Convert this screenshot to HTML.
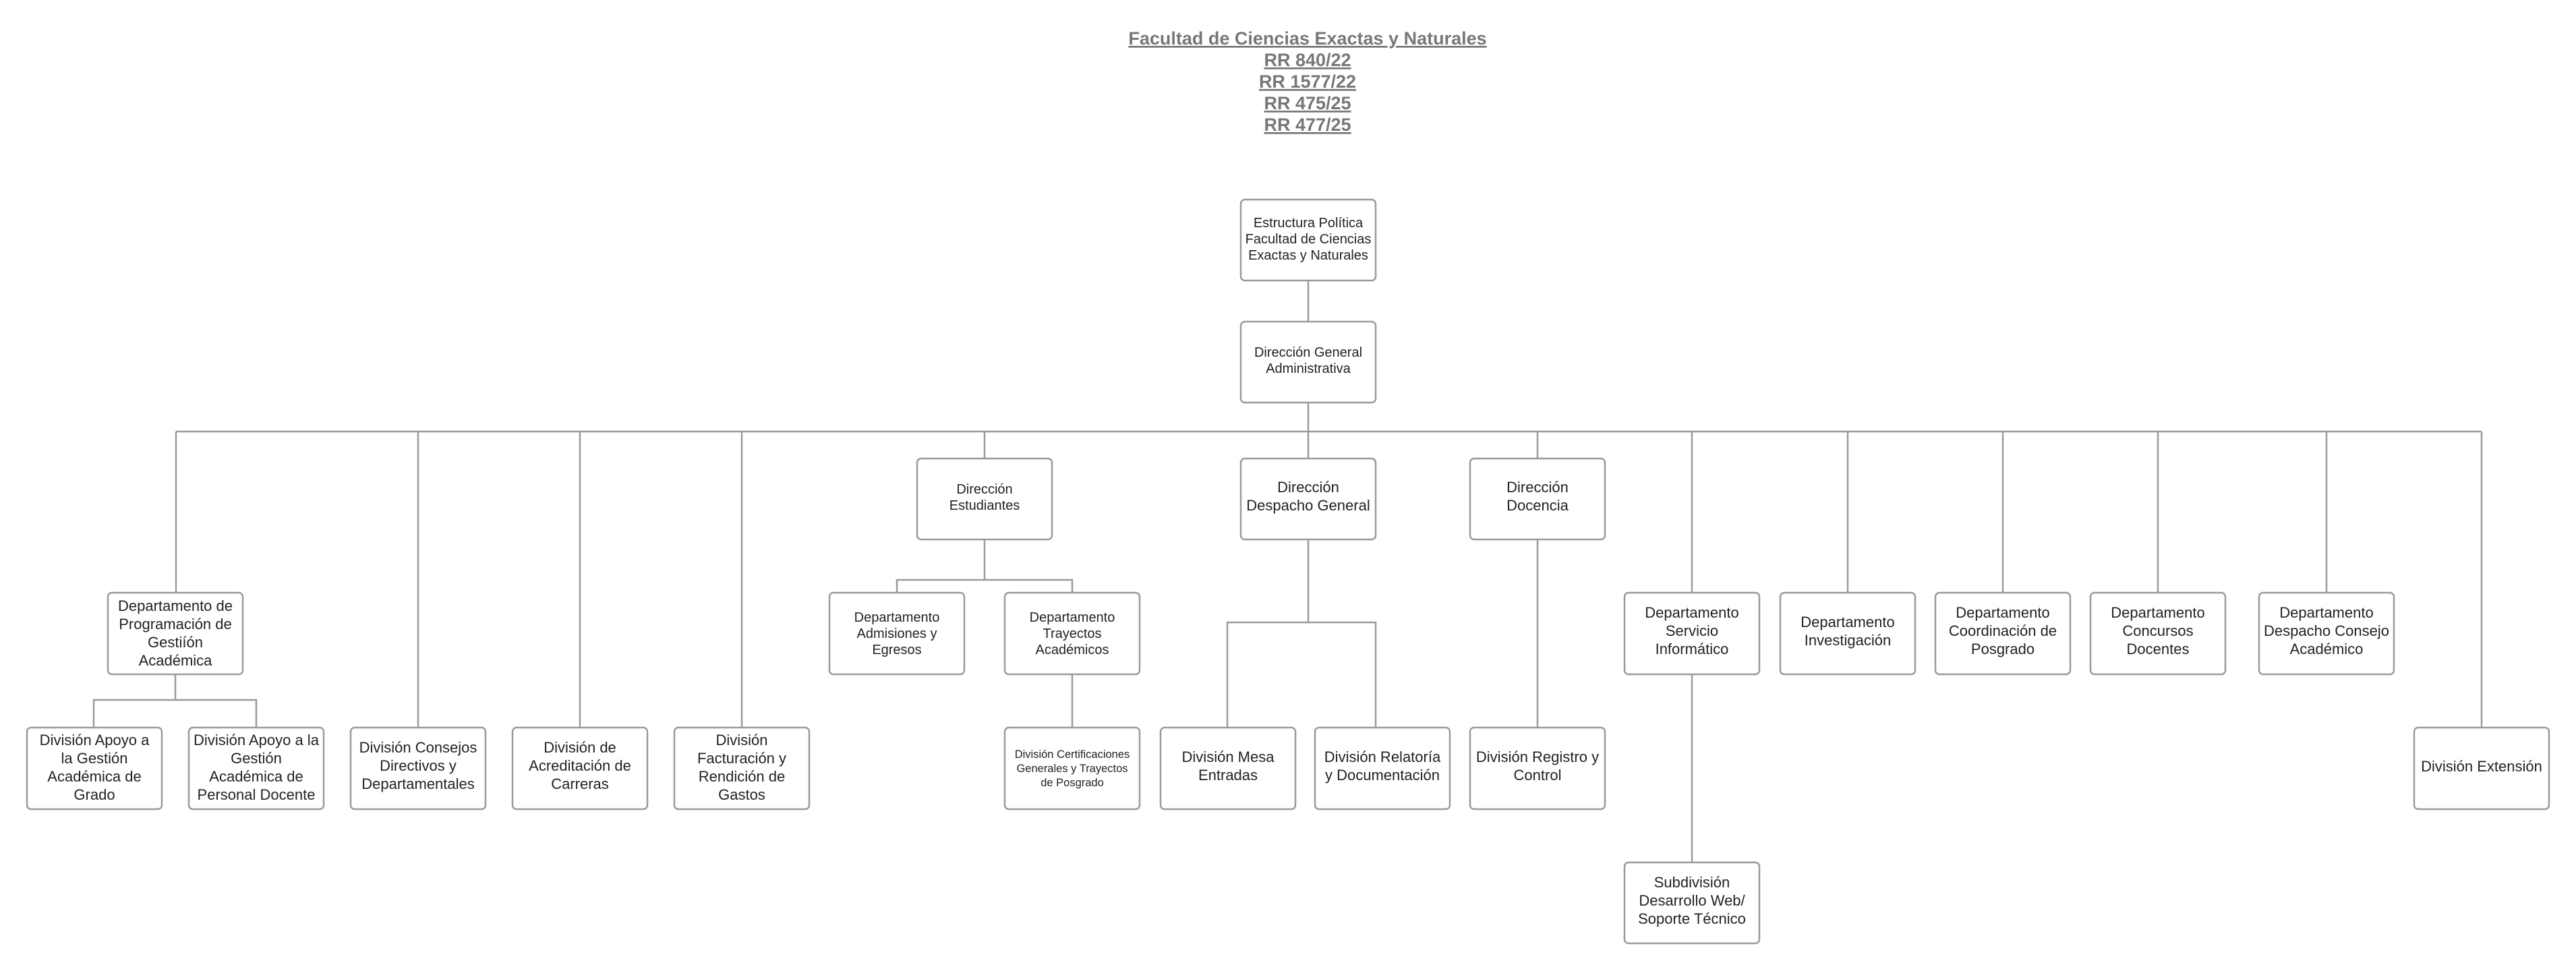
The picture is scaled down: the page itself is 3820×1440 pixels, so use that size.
<!DOCTYPE html>
<html><head><meta charset="utf-8"><style>
html,body{margin:0;padding:0;background:#fff;}
svg{display:block;}
text{font-family:"Liberation Sans",Arial,sans-serif;fill:#222;text-anchor:middle;}
.t{font-weight:bold;fill:#777;font-size:27px;text-decoration:underline;}
.b{fill:#fff;stroke:#9a9a9a;stroke-width:2.5;}
.l{stroke:#9a9a9a;stroke-width:2.5;fill:none;}
.s{font-size:20px;}
.m{font-size:22px;}
.x{font-size:16.5px;}
</style></head><body>
<svg width="3820" height="1440" viewBox="0 0 3820 1440" xmlns="http://www.w3.org/2000/svg">
<text class="t" x="1939" y="66">Facultad de Ciencias Exactas y Naturales</text>
<text class="t" x="1939" y="98">RR 840/22</text>
<text class="t" x="1939" y="130">RR 1577/22</text>
<text class="t" x="1939" y="162">RR 475/25</text>
<text class="t" x="1939" y="194">RR 477/25</text>

<!-- connectors -->
<path class="l" d="M1940 416V476 M1940 597V640 M261 640H3680
M261 640V879 M620 640V1079 M860 640V1079 M1100 640V1079 M1460 640V680 M1940 640V680 M2280 640V680
M2509 640V879 M2740 640V879 M2970 640V879 M3200 640V879 M3450 640V879 M3680 640V1079
M260 1000V1038 M139 1079V1038H380V1079
M1460 800V860 M1330 879V860H1590V879 M1590 1000V1079
M1940 800V923 M1820 1079V923H2040V1079
M2280 800V1079 M2509 1000V1279"/>

<!-- boxes -->
<g>
<rect class="b" x="1840" y="296" width="200" height="120" rx="6"/>
<rect class="b" x="1840" y="477" width="200" height="120" rx="6"/>
<rect class="b" x="1360" y="680" width="200" height="120" rx="6"/>
<rect class="b" x="1840" y="680" width="200" height="120" rx="6"/>
<rect class="b" x="2180" y="680" width="200" height="120" rx="6"/>
<rect class="b" x="160" y="879" width="200" height="121" rx="6"/>
<rect class="b" x="1230" y="879" width="200" height="121" rx="6"/>
<rect class="b" x="1490" y="879" width="200" height="121" rx="6"/>
<rect class="b" x="2409" y="879" width="200" height="121" rx="6"/>
<rect class="b" x="2640" y="879" width="200" height="121" rx="6"/>
<rect class="b" x="2870" y="879" width="200" height="121" rx="6"/>
<rect class="b" x="3100" y="879" width="200" height="121" rx="6"/>
<rect class="b" x="3350" y="879" width="200" height="121" rx="6"/>
<rect class="b" x="40" y="1079" width="200" height="121" rx="6"/>
<rect class="b" x="280" y="1079" width="200" height="121" rx="6"/>
<rect class="b" x="520" y="1079" width="200" height="121" rx="6"/>
<rect class="b" x="760" y="1079" width="200" height="121" rx="6"/>
<rect class="b" x="1000" y="1079" width="200" height="121" rx="6"/>
<rect class="b" x="1490" y="1079" width="200" height="121" rx="6"/>
<rect class="b" x="1721" y="1079" width="200" height="121" rx="6"/>
<rect class="b" x="1950" y="1079" width="200" height="121" rx="6"/>
<rect class="b" x="2180" y="1079" width="200" height="121" rx="6"/>
<rect class="b" x="3580" y="1079" width="200" height="121" rx="6"/>
<rect class="b" x="2409" y="1279" width="200" height="120" rx="6"/>
</g>

<!-- labels -->
<text class="s" x="1940" y="337">Estructura Política</text>
<text class="s" x="1940" y="361">Facultad de Ciencias</text>
<text class="s" x="1940" y="385">Exactas y Naturales</text>
<text class="s" x="1940" y="529">Dirección General</text>
<text class="s" x="1940" y="553">Administrativa</text>
<text class="s" x="1460" y="732">Dirección</text>
<text class="s" x="1460" y="756">Estudiantes</text>
<text class="m" x="1940" y="730">Dirección</text>
<text class="m" x="1940" y="757">Despacho General</text>
<text class="m" x="2280" y="730">Dirección</text>
<text class="m" x="2280" y="757">Docencia</text>

<text class="m" x="260" y="906">Departamento de</text>
<text class="m" x="260" y="933">Programación de</text>
<text class="m" x="260" y="960">Gestiíón</text>
<text class="m" x="260" y="987">Académica</text>
<text class="s" x="1330" y="922">Departamento</text>
<text class="s" x="1330" y="946">Admisiones y</text>
<text class="s" x="1330" y="970">Egresos</text>
<text class="s" x="1590" y="922">Departamento</text>
<text class="s" x="1590" y="946">Trayectos</text>
<text class="s" x="1590" y="970">Académicos</text>
<text class="m" x="2509" y="916">Departamento</text>
<text class="m" x="2509" y="943">Servicio</text>
<text class="m" x="2509" y="970">Informático</text>
<text class="m" x="2740" y="930">Departamento</text>
<text class="m" x="2740" y="957">Investigación</text>
<text class="m" x="2970" y="916">Departamento</text>
<text class="m" x="2970" y="943">Coordinación de</text>
<text class="m" x="2970" y="970">Posgrado</text>
<text class="m" x="3200" y="916">Departamento</text>
<text class="m" x="3200" y="943">Concursos</text>
<text class="m" x="3200" y="970">Docentes</text>
<text class="m" x="3450" y="916">Departamento</text>
<text class="m" x="3450" y="943">Despacho Consejo</text>
<text class="m" x="3450" y="970">Académico</text>

<text class="m" x="140" y="1105">División Apoyo a</text>
<text class="m" x="140" y="1132">la Gestión</text>
<text class="m" x="140" y="1159">Académica de</text>
<text class="m" x="140" y="1186">Grado</text>
<text class="m" x="380" y="1105">División Apoyo a la</text>
<text class="m" x="380" y="1132">Gestión</text>
<text class="m" x="380" y="1159">Académica de</text>
<text class="m" x="380" y="1186">Personal Docente</text>
<text class="m" x="620" y="1116">División Consejos</text>
<text class="m" x="620" y="1143">Directivos y</text>
<text class="m" x="620" y="1170">Departamentales</text>
<text class="m" x="860" y="1116">División de</text>
<text class="m" x="860" y="1143">Acreditación de</text>
<text class="m" x="860" y="1170">Carreras</text>
<text class="m" x="1100" y="1105">División</text>
<text class="m" x="1100" y="1132">Facturación y</text>
<text class="m" x="1100" y="1159">Rendición de</text>
<text class="m" x="1100" y="1186">Gastos</text>
<text class="x" x="1590" y="1124">División Certificaciones</text>
<text class="x" x="1590" y="1145">Generales y Trayectos</text>
<text class="x" x="1590" y="1166">de Posgrado</text>
<text class="m" x="1821" y="1130">División Mesa</text>
<text class="m" x="1821" y="1157">Entradas</text>
<text class="m" x="2050" y="1130">División Relatoría</text>
<text class="m" x="2050" y="1157">y Documentación</text>
<text class="m" x="2280" y="1130">División Registro y</text>
<text class="m" x="2280" y="1157">Control</text>
<text class="m" x="3680" y="1144">División Extensión</text>
<text class="m" x="2509" y="1316">Subdivisión</text>
<text class="m" x="2509" y="1343">Desarrollo Web/</text>
<text class="m" x="2509" y="1370">Soporte Técnico</text>
</svg>
</body></html>
